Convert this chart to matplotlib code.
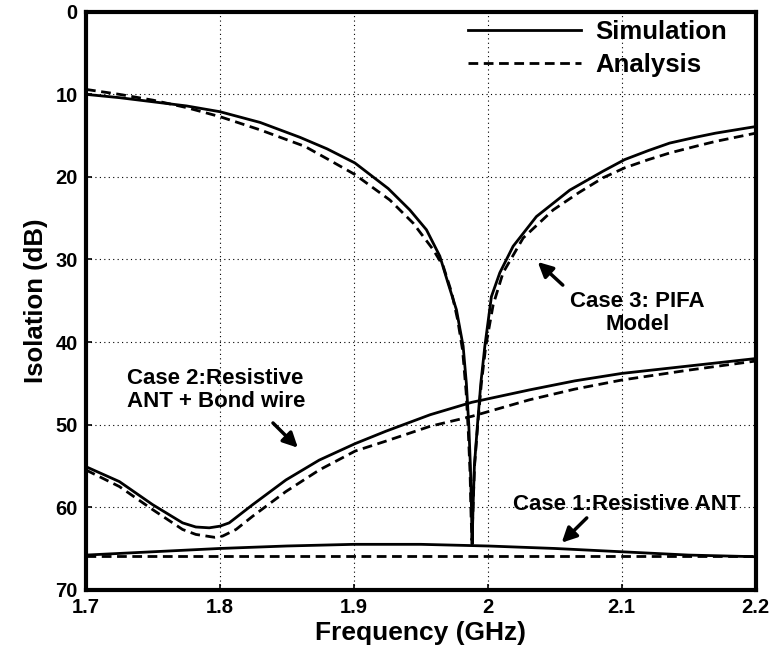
import matplotlib
matplotlib.use('Agg')
import matplotlib.pyplot as plt

plt.rcParams['font.family'] = ['Liberation Sans', 'DejaVu Sans']

# Case 3: PIFA model (notch near 1.988 GHz)
f_pifa_sim = [1.700, 1.725, 1.750, 1.775, 1.800, 1.830, 1.8597, 1.880, 1.9007,
              1.9256, 1.9418, 1.9542, 1.9642, 1.9704, 1.9766, 1.9816, 1.9840,
              1.9858, 1.9870, 1.9878, 1.9883, 1.9890, 1.9900, 1.9923, 1.9948,
              1.9978, 2.0027, 2.009, 2.0189, 2.0363, 2.0612, 2.0861, 2.1022,
              2.120, 2.1358, 2.155, 2.170, 2.185, 2.200]
iso_pifa_sim = [10.0, 10.4, 10.9, 11.4, 12.1, 13.4, 15.2, 16.6, 18.3,
                21.4, 24.0, 26.4, 29.6, 32.9, 36.1, 40.5, 45.0,
                50.0, 55.0, 60.0, 64.5, 60.0, 55.0, 50.0, 45.0,
                40.5, 34.5, 31.6, 28.4, 24.8, 21.6, 19.3, 17.9,
                16.8, 15.9, 15.2, 14.7, 14.3, 13.9]
f_pifa_ana = [1.700, 1.725, 1.750, 1.775, 1.800, 1.830, 1.8634, 1.880, 1.9007,
              1.9269, 1.9443, 1.9592, 1.9667, 1.9730, 1.9775, 1.9812, 1.9838,
              1.9855, 1.9868, 1.9875, 1.9882, 1.9890, 1.9901, 1.9925, 1.9952,
              1.9985, 2.004, 2.0114, 2.0264, 2.0488, 2.0680, 2.0861, 2.1022,
              2.120, 2.1358, 2.155, 2.170, 2.185, 2.200]
iso_pifa_ana = [9.4, 10.0, 10.7, 11.6, 12.7, 14.3, 16.3, 17.8, 19.7,
                22.8, 25.6, 28.8, 30.8, 34.0, 37.3, 41.0, 46.0,
                51.0, 56.0, 61.0, 64.0, 60.0, 55.0, 50.0, 45.0,
                40.5, 35.5, 31.6, 27.4, 24.0, 21.9, 20.1, 18.9,
                17.9, 17.1, 16.3, 15.7, 15.2, 14.7]

# Case 2: resistive antenna + bond wire
f_bond_sim = [1.700, 1.7249, 1.7498, 1.7721, 1.782, 1.792, 1.800, 1.8069,
              1.8244, 1.8493, 1.8741, 1.901, 1.9239, 1.957, 1.988, 2.031,
              2.065, 2.100, 2.150, 2.200]
iso_bond_sim = [55.1, 56.9, 59.7, 61.9, 62.4, 62.5, 62.3, 61.9,
                59.7, 56.7, 54.3, 52.3, 50.8, 48.8, 47.3, 45.8,
                44.7, 43.8, 42.9, 42.0]
f_bond_ana = [1.700, 1.7249, 1.7498, 1.7721, 1.782, 1.796, 1.802, 1.812,
              1.8244, 1.8493, 1.8741, 1.901, 1.9239, 1.957, 1.988, 2.031,
              2.065, 2.100, 2.150, 2.200]
iso_bond_ana = [55.5, 57.5, 60.3, 62.7, 63.3, 63.65, 63.5, 62.7,
                61.1, 58.1, 55.5, 53.2, 52.0, 50.2, 49.0, 47.0,
                45.7, 44.6, 43.4, 42.3]

# Case 1: resistive antenna only
f_res = [1.70, 1.75, 1.80, 1.85, 1.90, 1.95, 2.00, 2.05, 2.10, 2.15, 2.20]
iso_res_sim = [65.8, 65.4, 65.0, 64.7, 64.5, 64.5, 64.7, 65.0, 65.4, 65.8, 66.0]
iso_res_ana = [65.9, 65.9, 65.9, 65.9, 65.9, 65.9, 65.9, 65.9, 65.9, 65.9, 65.9]

x_ticks = [1.7, 1.8, 1.9, 2.0, 2.1, 2.2]
x_tick_labels = ['1.7', '1.8', '1.9', '2', '2.1', '2.2']
y_ticks = [0, 10, 20, 30, 40, 50, 60, 70]

fig = plt.figure(figsize=(7.75, 6.56), dpi=100)
ax = fig.add_axes([0.111, 0.101, 0.864, 0.881])

lw = 2.0
dash = (3.5, 2.0)
ax.plot(f_pifa_sim, iso_pifa_sim, 'k-', lw=lw, label='Simulation')
ax.plot(f_pifa_ana, iso_pifa_ana, 'k--', lw=lw, dashes=dash, label='Analysis')
ax.plot(f_bond_sim, iso_bond_sim, 'k-', lw=lw)
ax.plot(f_bond_ana, iso_bond_ana, 'k--', lw=lw, dashes=dash)
ax.plot(f_res, iso_res_sim, 'k-', lw=lw)
ax.plot(f_res, iso_res_ana, 'k--', lw=lw, dashes=dash)

ax.set_xlim(1.7, 2.2)
ax.set_ylim(70, 0)
ax.set_xticks(x_ticks)
ax.set_xticklabels(x_tick_labels)
ax.set_yticks(y_ticks)
ax.tick_params(direction='in', length=4, width=1.2, labelsize=14.5, pad=6)
for lab in ax.get_xticklabels() + ax.get_yticklabels():
    lab.set_fontweight('bold')

ax.grid(True, color='k', linestyle=(0, (1, 3)), linewidth=0.8)
for s in ax.spines.values():
    s.set_linewidth(3)

ax.set_xlabel('Frequency (GHz)', fontsize=19, fontweight='bold', labelpad=3)
ax.set_ylabel('Isolation (dB)', fontsize=18.5, fontweight='bold', labelpad=5)

leg = ax.legend(loc='upper right', bbox_to_anchor=(0.957, 0.985), frameon=False,
                fontsize=18.5, handlelength=4.4, handletextpad=0.55,
                labelspacing=0.35, borderpad=0, borderaxespad=0)
for t in leg.get_texts():
    t.set_fontweight('bold')

arrow = dict(arrowstyle='-|>', lw=2.5, color='k', mutation_scale=22,
             shrinkA=0, shrinkB=0)

ax.annotate('', xy=(2.0373, 30.3), xytext=(2.056, 33.1), arrowprops=arrow)
ax.text(2.112, 36.5, 'Case 3: PIFA\nModel', ha='center', va='center',
        fontsize=16, fontweight='bold', linespacing=1.1)

ax.annotate('', xy=(1.8582, 52.8), xytext=(1.8396, 49.8), arrowprops=arrow)
ax.text(1.7306, 45.8, 'Case 2:Resistive\nANT + Bond wire', ha='left', va='center',
        fontsize=16, fontweight='bold', linespacing=1.1)

ax.annotate('', xy=(2.0552, 64.3), xytext=(2.0739, 61.3), arrowprops=arrow)
ax.text(2.104, 59.7, 'Case 1:Resistive ANT', ha='center', va='center',
        fontsize=16, fontweight='bold')

plt.savefig('out.png', dpi=100)
